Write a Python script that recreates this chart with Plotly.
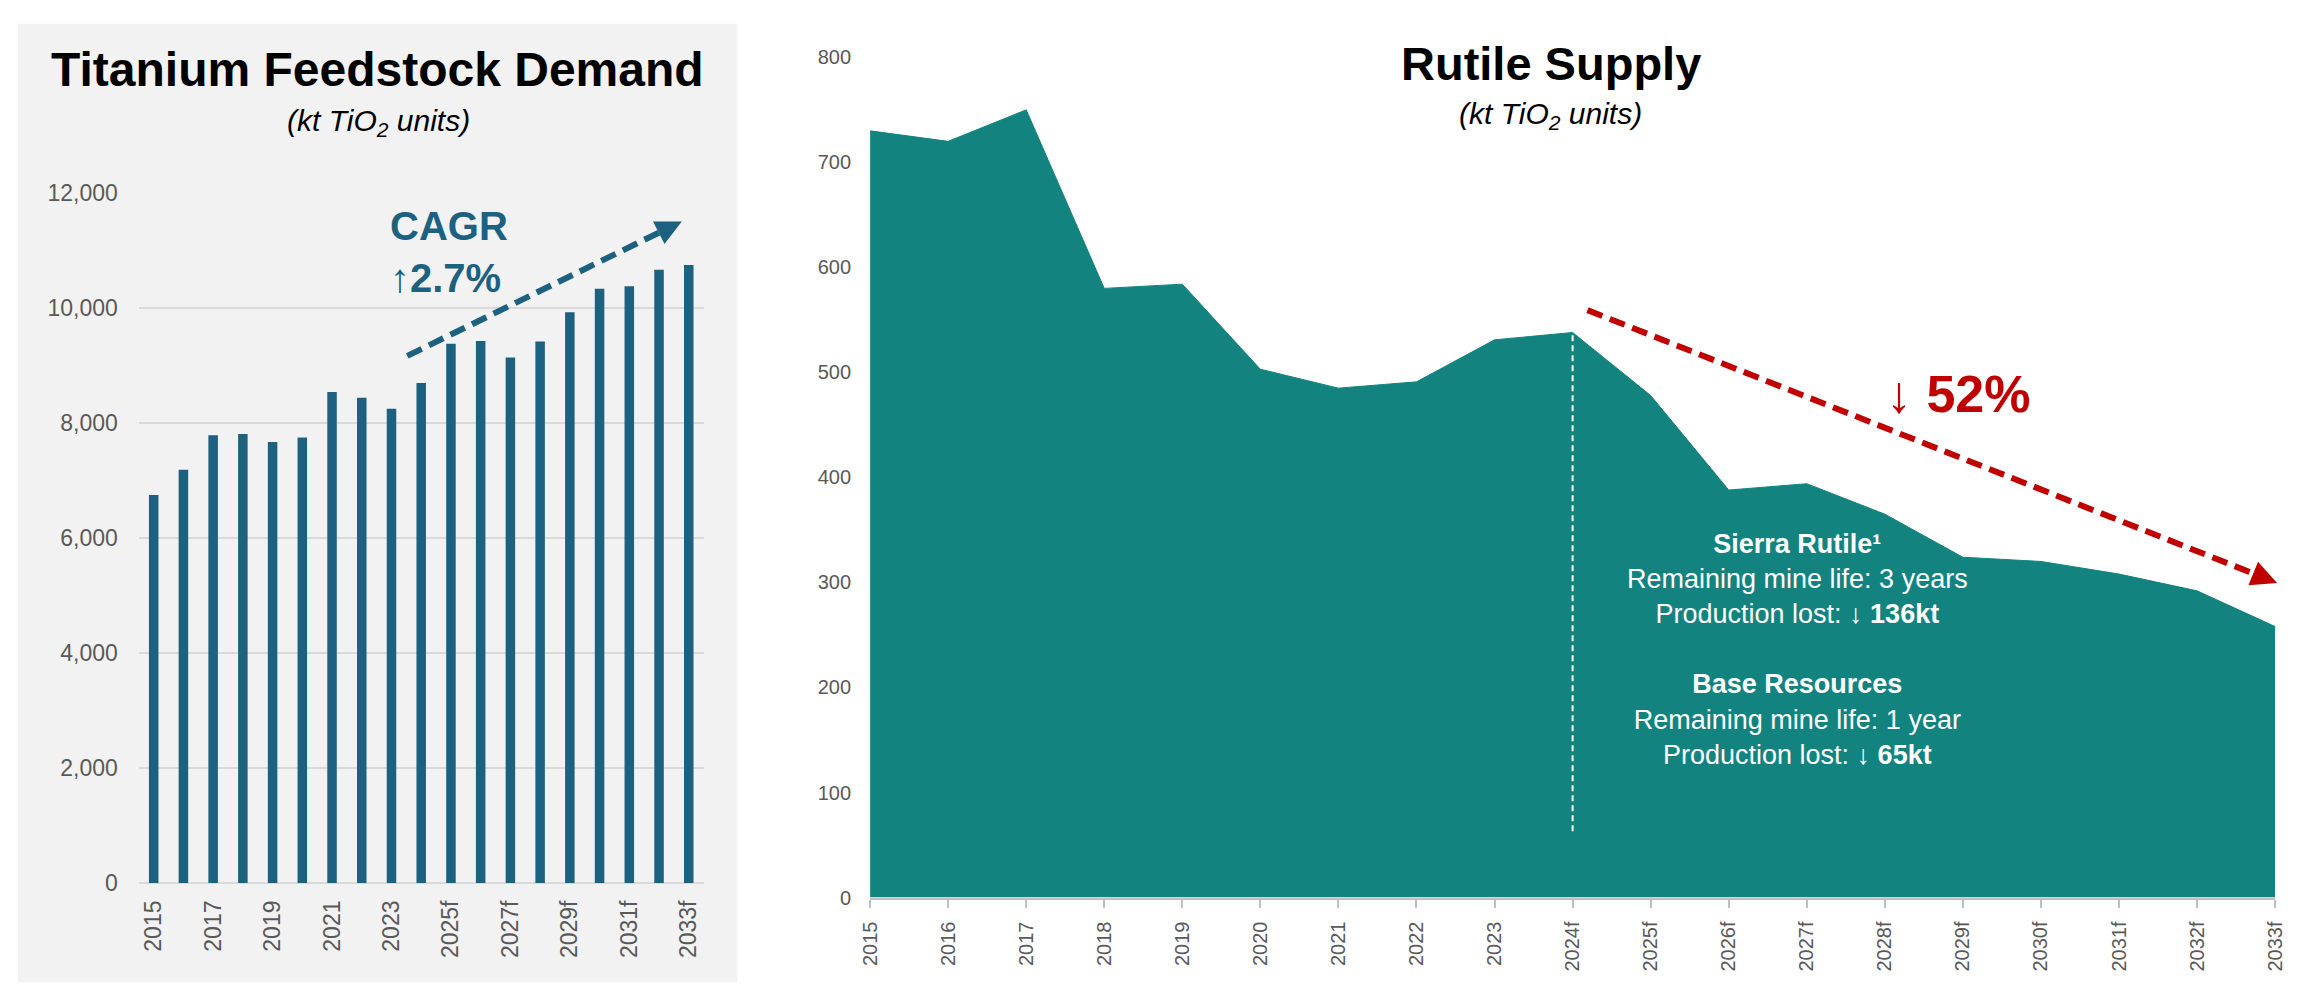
import math
import plotly.graph_objects as go

W, H = 2300, 1006

# categories shared by both panels
years = ["2015", "2016", "2017", "2018", "2019", "2020", "2021", "2022", "2023",
         "2024f", "2025f", "2026f", "2027f", "2028f", "2029f", "2030f", "2031f",
         "2032f", "2033f"]

# titanium feedstock demand, kt TiO2 units
demand = [6750, 7190, 7790, 7810, 7670, 7750, 8540, 8440, 8250, 8700,
          9380, 9430, 9140, 9420, 9930, 10340, 10380, 10670, 10750]
demand_ticks = [0, 2000, 4000, 6000, 8000, 10000, 12000]

# rutile supply, kt TiO2 units
supply = [730, 720, 750, 580, 584, 503, 485, 491, 531, 538,
          478, 388, 394, 365, 324, 320, 308, 292, 258]
supply_ticks = [0, 100, 200, 300, 400, 500, 600, 700, 800]

BLUE = "#1c6180"
TEAL = "#13837f"
RED = "#c00000"
GRAY = "#595959"
GRID = "#d9d9d9"
FONT = "Liberation Sans, Arial, sans-serif"


def px(x):
    return x / W


def py(y):
    return 1 - y / H


def note(x, y, text, size, color, **kw):
    fig.add_annotation(x=px(x), y=py(y), xref="paper", yref="paper",
                       xanchor=kw.pop("xanchor", "center"), yanchor="middle",
                       text=text, showarrow=False,
                       font=dict(size=size, color=color), **kw)


def dashed_arrow(x0, y0, x1, y1, color, head_len=26, head_w=26):
    # dashed shaft plus a filled triangular head, all in page pixels
    ux, uy = x1 - x0, y1 - y0
    d = math.hypot(ux, uy)
    ux, uy = ux / d, uy / d
    bx, by = x1 - head_len * ux, y1 - head_len * uy
    nx, ny = -uy * head_w / 2, ux * head_w / 2
    fig.add_shape(type="line", xref="paper", yref="paper",
                  x0=px(x0), y0=py(y0), x1=px(bx + 4 * ux), y1=py(by + 4 * uy),
                  line=dict(color=color, width=6, dash="16px,8px"))
    path = (f"M{px(x1)},{py(y1)} L{px(bx + nx)},{py(by + ny)} "
            f"L{px(bx - nx)},{py(by - ny)} Z")
    fig.add_shape(type="path", xref="paper", yref="paper", path=path,
                  fillcolor=color, line=dict(width=0))


fig = go.Figure()

fig.add_trace(go.Bar(
    x=years, y=demand,
    marker=dict(color=BLUE, line=dict(width=0)),
    xaxis="x", yaxis="y",
))

fig.add_trace(go.Scatter(
    x=years, y=supply,
    mode="lines", fill="tozeroy",
    line=dict(color=TEAL, width=1), fillcolor=TEAL,
    xaxis="x2", yaxis="y2",
))

fig.update_layout(
    width=W, height=H,
    margin=dict(l=0, r=0, t=0, b=0),
    paper_bgcolor="white",
    plot_bgcolor="rgba(0,0,0,0)",
    showlegend=False,
    bargap=0.68,
    font=dict(family=FONT, color=GRAY),
    xaxis=dict(
        domain=[px(129), px(699)], anchor="y", type="category",
        tickvals=years[::2], tickangle=-90,
        tickfont=dict(size=23, color=GRAY),
        showgrid=False, ticks="", ticklabelstandoff=12,
    ),
    yaxis=dict(
        domain=[py(893), py(185)], anchor="x",
        range=[0, 12000], tickvals=demand_ticks, tickformat=",",
        showgrid=True, gridcolor=GRID, gridwidth=2,
        zeroline=True, zerolinecolor=GRID, zerolinewidth=2,
        tickfont=dict(size=23, color=GRAY), ticks="", ticklabelstandoff=20,
    ),
    xaxis2=dict(
        domain=[px(867), px(2285)], anchor="y2", type="category",
        range=[0, len(years) - 1], tickangle=-90,
        tickfont=dict(size=20, color=GRAY),
        ticks="outside", ticklen=8, tickcolor="#bfbfbf", tickwidth=1.5,
        showline=True, linecolor="#bfbfbf", linewidth=2,
        showgrid=False, ticklabelstandoff=6,
    ),
    yaxis2=dict(
        domain=[py(908), py(45.5)], anchor="x2",
        range=[0, 800], tickvals=supply_ticks,
        showgrid=False, zeroline=False,
        tickfont=dict(size=20, color=GRAY), ticks="", ticklabelstandoff=18,
    ),
)

# grey card behind the demand chart
fig.add_shape(type="rect", xref="paper", yref="paper",
              x0=px(7), x1=px(733), y0=py(995), y1=py(11),
              fillcolor="#f2f2f2", line=dict(width=0), layer="below")

# white dashed marker at 2024f
fig.add_shape(type="line", xref="x2", yref="y2",
              x0=9, x1=9, y0=63, y1=supply[9],
              line=dict(color="white", width=2, dash="6px,4px"))

# dashed trend arrows
dashed_arrow(400, 352, 677, 214, BLUE)
dashed_arrow(1591, 305, 2287, 585, RED)

# titles
note(370, 58, "<b>Titanium Feedstock Demand</b>", 48, "black")
note(371, 112, "<i>(kt TiO<sub>2</sub> units)</i>", 30, "black")
note(1554, 52, "<b>Rutile Supply</b>", 47, "black")
note(1554, 105, "<i>(kt TiO<sub>2</sub> units)</i>", 30, "black")

# call-outs
note(380, 245, "<b>CAGR</b><br>↑<b>2.7%</b>", 40, BLUE,
     xanchor="left", align="left")
note(1965, 391, "↓ <b>52%</b>", 52, RED)
note(1803, 653,
     "<b>Sierra Rutile¹</b><br>"
     "Remaining mine life: 3 years<br>"
     "Production lost: ↓ <b>136kt</b><br><br>"
     "<b>Base Resources</b><br>"
     "Remaining mine life: 1 year<br>"
     "Production lost: ↓ <b>65kt</b>",
     27, "white", align="center")

# drop the default page margin so the figure fills the window exactly
fig.write_html("out.html",
               config={"displayModeBar": False},
               post_script="document.body.style.margin='0';"
                           "document.body.style.overflow='hidden';")
